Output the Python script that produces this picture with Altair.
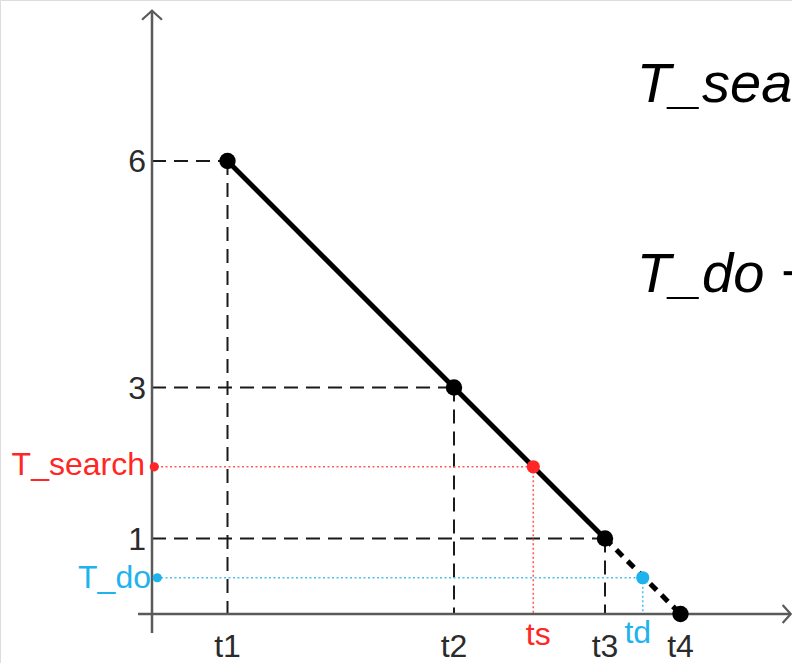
import altair as alt
import pandas as pd

# Break points of the descending schedule: time marks and the level reached at each
t_labels = ["t1", "t2", "t3", "t4"]
t_values = [1.0, 4.0, 6.0, 7.0]
levels = [6, 3, 1, 0]

# Two thresholds
search_label, search_time_label = "T_search", "ts"
search_level, search_time = 1.95, 5.05
do_label, do_time_label = "T_do", "td"
do_level, do_time = 0.48, 6.5

# Formulas beside the plot
formula_lines = ["T_search", "T_do \u2212"]
formula_levels = [6.78, 4.26]
formula_x = 6.42

RED = "#ff2626"
RED_LIGHT = "#ff5a5a"
BLUE = "#1fb3ee"
BLUE_LIGHT = "#4cc0ef"
AXIS = "#5a5a5a"
INK = "#1a1a1a"
LABEL = "#2b2b2b"

W, H = 792, 663
PX = 75.5            # pixels per unit on both axes
X0, Y0 = 152, 614    # pixel position of the origin

xs = alt.Scale(domain=[-X0 / PX, (W - X0) / PX], nice=False, zero=False)
ys = alt.Scale(domain=[-(H - Y0) / PX, Y0 / PX], nice=False, zero=False)


def X(field="x"):
    return alt.X(f"{field}:Q", scale=xs, axis=None)


def Y(field="y"):
    return alt.Y(f"{field}:Q", scale=ys, axis=None)


# Axes with open arrowheads
axes_df = pd.DataFrame([
    {"x": -0.185, "y": 0.0, "x2": 8.46, "y2": 0.0},
    {"x": 0.0, "y": -0.25, "x2": 0.0, "y2": 7.99},
])
axes = alt.Chart(axes_df).mark_rule(color=AXIS, strokeWidth=2.5).encode(
    x=X(), y=Y(), x2="x2:Q", y2="y2:Q")

up_tip = alt.Chart(pd.DataFrame({"x": [0.0], "y": [7.99]})).mark_point(
    shape="M -1 0.9 L 0 0 L 1 0.9", filled=False, size=400,
    stroke=AXIS, strokeWidth=2.2, opacity=1).encode(x=X(), y=Y())
right_tip = alt.Chart(pd.DataFrame({"x": [8.46], "y": [0.0]})).mark_point(
    shape="M -0.9 -1 L 0 0 L -0.9 1", filled=False, size=324,
    stroke=AXIS, strokeWidth=2.2, opacity=1).encode(x=X(), y=Y())

# Dashed projections of each break point onto the axes
guide_rows = []
for t, v in zip(t_values[:-1], levels[:-1]):
    guide_rows.append({"x": 0.0, "y": v, "x2": t, "y2": v})
    guide_rows.append({"x": t, "y": v, "x2": t, "y2": 0.0})
guides = alt.Chart(pd.DataFrame(guide_rows)).mark_rule(
    color=INK, strokeWidth=2, strokeDash=[14, 8]).encode(
    x=X(), y=Y(), x2="x2:Q", y2="y2:Q")


# Dotted projections of the thresholds
def dotted(level, time, color):
    df = pd.DataFrame([
        {"x": 0.0, "y": level, "x2": time, "y2": level},
        {"x": time, "y": level, "x2": time, "y2": 0.0},
    ])
    return alt.Chart(df).mark_rule(
        color=color, strokeWidth=1.6, strokeDash=[2, 2.5]).encode(
        x=X(), y=Y(), x2="x2:Q", y2="y2:Q")


red_guides = dotted(search_level, search_time, RED_LIGHT)
blue_guides = dotted(do_level, do_time, BLUE_LIGHT)

# Schedule line: solid up to t3, dashed to t4
line_df = pd.DataFrame({"x": t_values, "y": levels, "i": range(len(levels))})
solid = alt.Chart(line_df.iloc[:3]).mark_line(
    color="black", strokeWidth=5).encode(x=X(), y=Y(), order="i:Q")
dashed = alt.Chart(line_df.iloc[2:]).mark_line(
    color="black", strokeWidth=5, strokeDash=[9, 7]).encode(
    x=X(), y=Y(), order="i:Q")

dots = alt.Chart(line_df).mark_circle(color="black", size=270, opacity=1).encode(
    x=X(), y=Y())

thr_df = pd.DataFrame({
    "x": [search_time, do_time], "y": [search_level, do_level],
    "c": [RED, BLUE]})
thr_dots = alt.Chart(thr_df).mark_circle(size=175, opacity=1).encode(
    x=X(), y=Y(), color=alt.Color("c:N", scale=None))

axis_dots_df = pd.DataFrame({
    "x": [0.03, 0.07], "y": [search_level, do_level], "c": [RED, BLUE]})
axis_dots = alt.Chart(axis_dots_df).mark_circle(size=85, opacity=1).encode(
    x=X(), y=Y(), color=alt.Color("c:N", scale=None))

FONT = "Liberation Sans"
FS = 32

# Level labels on the vertical axis
ytick_df = pd.DataFrame({"x": [0.0] * 3, "y": levels[:3],
                         "txt": [str(v) for v in levels[:3]]})
ytick_text = alt.Chart(ytick_df).mark_text(
    align="right", baseline="middle", dx=-6, dy=1, font=FONT, fontSize=FS,
    color=LABEL).encode(x=X(), y=Y(), text="txt:N")

search_text = alt.Chart(pd.DataFrame(
    {"x": [0.0], "y": [search_level], "txt": [search_label]})).mark_text(
    align="right", baseline="middle", dx=-7, dy=-2, font=FONT, fontSize=FS,
    color=RED).encode(x=X(), y=Y(), text="txt:N")
do_text = alt.Chart(pd.DataFrame(
    {"x": [0.0], "y": [do_level], "txt": [do_label]})).mark_text(
    align="right", baseline="middle", dx=-1, dy=0, font=FONT, fontSize=FS,
    color=BLUE).encode(x=X(), y=Y(), text="txt:N")

# Time labels under the horizontal axis
xt_df = pd.DataFrame({"x": t_values, "y": [0.0] * 4, "txt": t_labels})
xt_text = alt.Chart(xt_df).mark_text(
    align="center", baseline="alphabetic", dy=43, font=FONT, fontSize=FS,
    color=LABEL).encode(x=X(), y=Y(), text="txt:N")

ts_text = alt.Chart(pd.DataFrame(
    {"x": [search_time], "y": [0.0], "txt": [search_time_label]})).mark_text(
    align="center", baseline="alphabetic", dy=31, dx=5, font=FONT, fontSize=FS,
    color=RED).encode(x=X(), y=Y(), text="txt:N")
td_text = alt.Chart(pd.DataFrame(
    {"x": [do_time], "y": [0.0], "txt": [do_time_label]})).mark_text(
    align="center", baseline="alphabetic", dy=29, dx=-5, font=FONT, fontSize=FS,
    color=BLUE).encode(x=X(), y=Y(), text="txt:N")

# Formula lines run past the right edge and are clipped there
formula_df = pd.DataFrame({"x": [formula_x] * 2, "y": formula_levels,
                           "txt": formula_lines})
formulas = alt.Chart(formula_df).mark_text(
    align="left", baseline="alphabetic", font="Liberation Sans",
    fontStyle="italic", fontSize=56, color="black", clip=True).encode(
    x=X(), y=Y(), text="txt:N")

chart = alt.layer(
    guides, red_guides, blue_guides, axes, up_tip, right_tip,
    solid, dashed, dots, thr_dots, axis_dots,
    ytick_text, search_text, do_text, xt_text, ts_text, td_text, formulas,
).properties(
    width=W, height=H, padding=0,
    autosize=alt.AutoSizeParams(type="none"),
).configure_view(stroke=None).configure(background="white")

chart.save("out.html", embed_options={"renderer": "svg", "actions": False})
